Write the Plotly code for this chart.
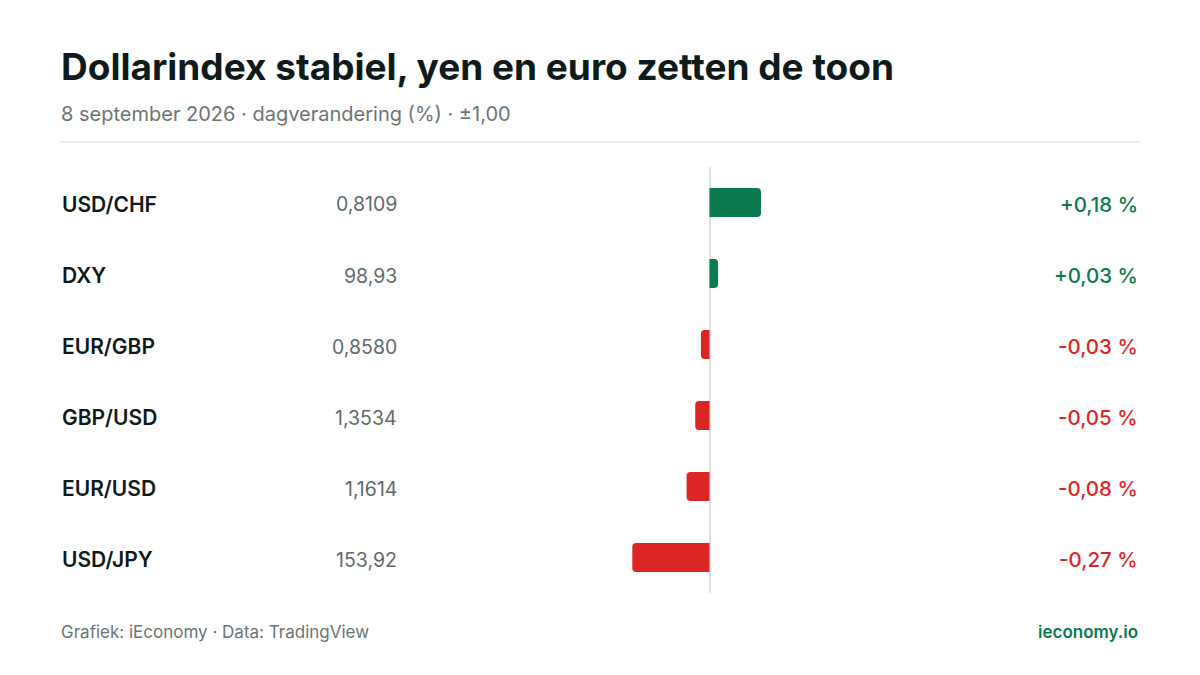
import plotly.graph_objects as go

# Koersen en dagverandering (%) per valutapaar
pairs = ["USD/CHF", "DXY", "EUR/GBP", "GBP/USD", "EUR/USD", "USD/JPY"]
rates = [0.8109, 98.93, 0.8580, 1.3534, 1.1614, 153.92]
changes = [0.18, 0.03, -0.03, -0.05, -0.08, -0.27]

GREEN = "#0b7a4f"
RED = "#dc2626"
INK = "#111a1a"
GREY = "#5f6b6b"
OFF = 8  # body margin of the html page
W, H = 1200 - 2 * OFF, 675 - 2 * OFF


def px_x(x):
    return (x - OFF) / W


def px_y(y):
    return 1 - (y - OFF) / H


def nl(v, dec):
    return f"{v:.{dec}f}".replace(".", ",")


colors = [GREEN if c >= 0 else RED for c in changes]

fig = go.Figure(go.Bar(
    x=changes,
    y=pairs,
    orientation="h",
    width=0.41,
    marker=dict(color=colors, line=dict(width=0)),
    hoverinfo="skip",
))

annotations = []
for p, r, c, col in zip(pairs, rates, changes, colors):
    annotations.append(dict(text=p, x=px_x(60), xref="paper", y=p, yref="y", yshift=-2,
                            xanchor="left", yanchor="middle", showarrow=False,
                            font=dict(size=21, color=INK, weight=600)))
    annotations.append(dict(text=nl(r, 4 if r < 10 else 2), x=px_x(399), xref="paper",
                            y=p, yref="y", yshift=-2, xanchor="right", yanchor="middle",
                            showarrow=False, font=dict(size=19.5, color=GREY)))
    sign = "+" if c >= 0 else ""
    annotations.append(dict(text=f"{sign}{nl(c, 2)} %", x=px_x(1140), xref="paper",
                            y=p, yref="y", yshift=-2, xanchor="right", yanchor="middle",
                            showarrow=False, font=dict(size=20.5, color=col, weight=500)))

# titel, ondertitel, voetregel
annotations += [
    dict(text="Dollarindex stabiel, yen en euro zetten de toon", x=px_x(59), y=px_y(66.5),
         xref="paper", yref="paper", xanchor="left", yanchor="middle", showarrow=False,
         font=dict(size=37, color="#0f1a1a", weight=700)),
    dict(text="8 september 2026 · dagverandering (%) · ±1,00", x=px_x(59), y=px_y(114.5),
         xref="paper", yref="paper", xanchor="left", yanchor="middle", showarrow=False,
         font=dict(size=20, color="#6b7575")),
    dict(text="Grafiek: iEconomy · Data: TradingView", x=px_x(59), y=px_y(631.5),
         xref="paper", yref="paper", xanchor="left", yanchor="middle", showarrow=False,
         font=dict(size=17, color="#6b7575")),
    dict(text="ieconomy.io", x=px_x(1140), y=px_y(631.5),
         xref="paper", yref="paper", xanchor="right", yanchor="middle", showarrow=False,
         font=dict(size=17, color=GREEN, weight=600)),
]

fig.update_layout(
    width=W, height=H,
    margin=dict(l=0, r=0, t=0, b=0),
    paper_bgcolor="white", plot_bgcolor="white",
    font=dict(family="Inter, sans-serif"),
    showlegend=False,
    barcornerradius=4,
    annotations=annotations,
    shapes=[dict(type="line", xref="paper", yref="paper", x0=px_x(60), x1=px_x(1140),
                 y0=px_y(142), y1=px_y(142), line=dict(color="#e3e6e6", width=1.5))],
    xaxis=dict(range=[-1, 1], domain=[px_x(423.5), px_x(995.5)], showgrid=False,
               showticklabels=False, zeroline=True, zerolinecolor="#e0e0e0",
               zerolinewidth=2, fixedrange=True),
    yaxis=dict(type="category", categoryorder="array", categoryarray=pairs,
               range=[5.5, -0.5], domain=[px_y(593), px_y(167)], showgrid=False,
               showticklabels=False, zeroline=False, fixedrange=True),
)

fig.write_html("out.html", config={"displayModeBar": False})
